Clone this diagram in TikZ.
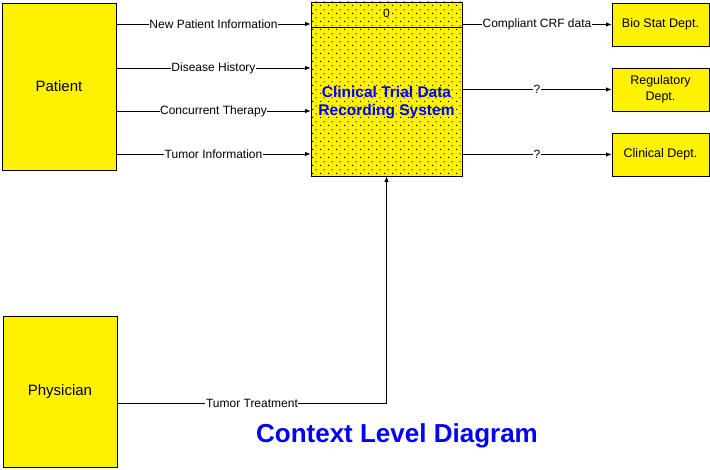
\documentclass[tikz,border=0pt]{standalone}
\usepackage{fontspec}
\setmainfont{Liberation Sans}
\usetikzlibrary{arrows.meta,patterns.meta}
\pgfdeclarepattern{
  name=stagdots,
  type=uncolored,
  bottom left={\pgfpoint{0pt}{0pt}},
  top right={\pgfpoint{8pt}{8pt}},
  tile size={\pgfpoint{8pt}{8pt}},
  code={
    \pgfpathrectangle{\pgfpoint{0pt}{0pt}}{\pgfpoint{1.2pt}{1.2pt}}
    \pgfpathrectangle{\pgfpoint{4pt}{4pt}}{\pgfpoint{1.2pt}{1.2pt}}
    \pgfusepath{fill}
  }
}

\begin{document}
\begin{tikzpicture}[x=1pt,y=-1pt,
  ext/.style={rectangle,draw=black,fill=yellow,line width=0.8pt,inner sep=0pt,
              minimum width=114pt,align=center,font=\fontsize{15}{17}\selectfont},
  dept/.style={rectangle,draw=black,fill=yellow,line width=0.8pt,inner sep=0pt,
               minimum width=97pt,minimum height=43pt,align=center,
               font=\fontsize{12.5}{16}\selectfont},
  proc/.style={rectangle,draw=black,line width=0.8pt,preaction={fill=yellow},
               pattern=stagdots,inner sep=0pt,
               minimum width=151pt,minimum height=174pt},
  flow/.style={-{Latex[length=5.5pt,width=4.5pt]},line width=0.8pt},
  lbl/.style={fill=white,inner sep=0.6pt,font=\fontsize{12}{14}\selectfont},
  ttl/.style={text=blue,font=\bfseries\fontsize{15.5}{18}\selectfont,align=center}
]
  \useasboundingbox (0,0) rectangle (710,470);
  \node[ext,minimum height=167pt] (pat) at (59,86.5) {Patient};
  \node[ext,minimum height=151pt] (phy) at (60,391.5) {Physician};
  \node[proc] (sys) at (386.5,89) {};
  \draw[line width=0.8pt] (sys.west |- 0,27) -- (sys.east |- 0,27);
  \node[font=\fontsize{12}{14}\selectfont] (sysid) at (386.5,13) {0};
  \node[ttl] (sysname) at (386.5,103) {Clinical Trial Data\\Recording System};
  \node[dept] (bio) at (660.5,24.5) {Bio Stat Dept.};
  \node[dept] (reg) at (660.5,89.5) {Regulatory\\Dept.};
  \node[dept] (cli) at (660.5,154.5) {Clinical Dept.};
  \foreach \y/\txt in {24/New Patient Information,68/Disease History,
                       111/Concurrent Therapy,154/Tumor Information}
    \draw[flow] (pat.east |- 0,\y) -- node[lbl]{\txt} (sys.west |- 0,\y);
  \draw[flow] (sys.east |- bio) -- node[lbl]{Compliant CRF data} (bio);
  \draw[flow] (sys.east |- reg) -- node[lbl]{?} (reg);
  \draw[flow] (sys.east |- cli) -- node[lbl]{?} (cli);
  \draw[flow] (phy.east |- 0,403) -- node[lbl]{Tumor Treatment} (sys.south |- 0,403)
    -- (sys.south);
  \node[text=blue,font=\bfseries\fontsize{26}{30}\selectfont] (title) at (397,436)
    {Context Level Diagram};
\end{tikzpicture}
\end{document}
